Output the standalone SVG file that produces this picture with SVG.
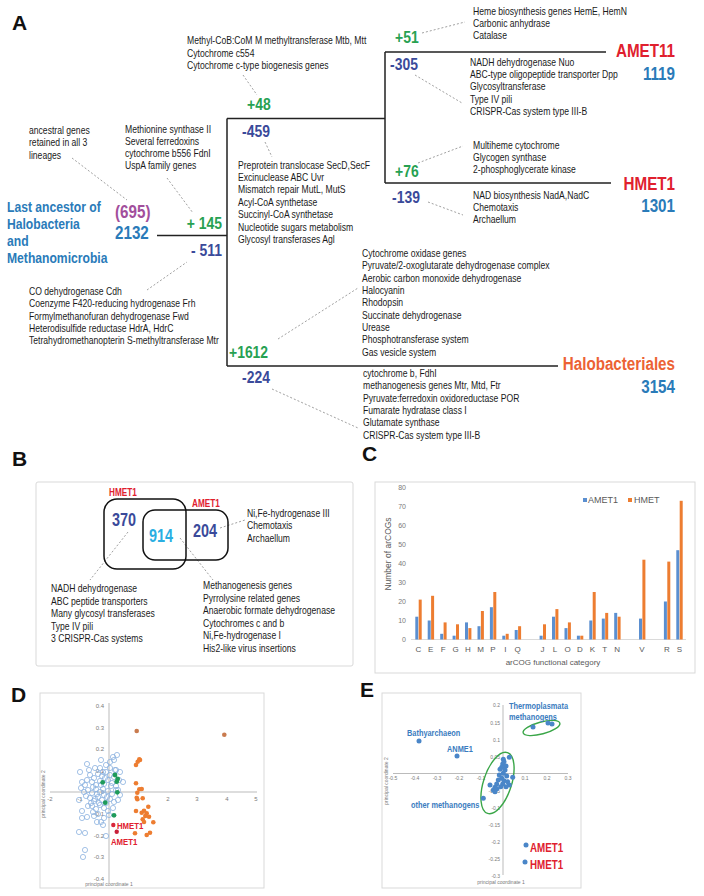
<svg xmlns="http://www.w3.org/2000/svg" width="704" height="896" viewBox="0 0 704 896">
<style>
text{font-family:"Liberation Sans",Arial,sans-serif}
.g text,text.g{font-size:10.5px;fill:#1a1a1a}
.grn{fill:#27a152;font-size:17px;font-weight:bold}
.nav{fill:#3a4a9a;font-size:17px;font-weight:bold}
.blu{fill:#2a7bb9;font-weight:bold}
.red{fill:#e0202e;font-weight:bold}
.lb{fill:#3a7cc0;font-weight:bold;font-size:9px}
.panel{font-size:21px;font-weight:bold;fill:#111}
.tree{stroke:#222;stroke-width:1.5;fill:none}
.dash{stroke:#888;stroke-width:0.8;stroke-dasharray:2,2;fill:none}
.box{fill:none;stroke:#d9d9d9;stroke-width:1}
.ax{fill:#7a7a7a}
.oc{fill:none;stroke:#8db3e0;stroke-width:0.8}
.ob{fill:#ed7d31}
.gp{fill:#1f9b5a}
.ep{fill:#4a86c8}
.ba{fill:#5b8fd0}
.bo{fill:#ed7d31}
</style>

<!-- Panel A -->
<text class="panel" x="12" y="30">A</text>
<g id="connectors">
<path class="tree" d="M157,235.5H227M227,118.5V366M227,118.5H385M385,52V183M385,52H606M385,183H611M227,366H558"/>
<path class="dash" d="M72,158L127,200M167,178L193,213M243,75L257,95M265,142L272,157M422,33L465,22M415,75L462,103M418,163L463,146M428,202L463,215M147,290L187,262M278,339L358,288M272,389L358,428"/>
<path class="dash" d="M128,532L90,580M180,538L213,580M220,528L245,520"/>
</g>

<g id="root">
<g class="blu" font-size="15" transform="translate(7 0) scale(.81 1)">
<text y="212">Last ancestor of</text>
<text y="229">Halobacteria</text>
<text y="246">and</text>
<text y="263">Methanomicrobia</text>
</g>
<text transform="translate(115 218) scale(.8 1)" font-size="19" font-weight="bold" fill="#a24f9c">(695)</text>
<text class="blu" font-size="19" transform="translate(115 239) scale(.8 1)">2132</text>
<g class="g" transform="translate(29 0) scale(.82 1)">
<text y="134">ancestral genes</text>
<text y="146.5">retained in all 3</text>
<text y="159">lineages</text>
</g>
</g>

<g id="branch-root">
<text class="grn" text-anchor="end" transform="translate(222 229) scale(.82 1)">+ 145</text>
<text class="nav" text-anchor="end" transform="translate(222 256) scale(.82 1)">- 511</text>
<g class="g" transform="translate(125 0) scale(.82 1)">
<text y="133.5">Methionine synthase II</text>
<text y="145.5">Several ferredoxins</text>
<text y="157.5">cytochrome b556 FdnI</text>
<text y="169.5">UspA family genes</text>
</g>
<g class="g" transform="translate(29 0) scale(.82 1)">
<text y="295">CO dehydrogenase Cdh</text>
<text y="307.5">Coenzyme F420-reducing hydrogenase Frh</text>
<text y="320">Formylmethanofuran dehydrogenase Fwd</text>
<text y="332">Heterodisulfide reductase HdrA, HdrC</text>
<text y="344.5">Tetrahydromethanopterin S-methyltransferase Mtr</text>
</g>
</g>

<g id="branch-methano">
<g class="g" transform="translate(187 0) scale(.82 1)">
<text y="44.5">Methyl-CoB:CoM M methyltransferase Mtb, Mtt</text>
<text y="56.8">Cytochrome c554</text>
<text y="69">Cytochrome c-type biogenesis genes</text>
</g>
<text class="grn" transform="translate(247 110) scale(.82 1)">+48</text>
<text class="nav" transform="translate(242 137) scale(.82 1)">-459</text>
<g class="g" transform="translate(238 0) scale(.82 1)">
<text y="169">Preprotein translocase SecD,SecF</text>
<text y="181.5">Excinuclease ABC Uvr</text>
<text y="193.5">Mismatch repair MutL, MutS</text>
<text y="206">Acyl-CoA synthetase</text>
<text y="218.5">Succinyl-CoA synthetase</text>
<text y="231">Nucleotide sugars metabolism</text>
<text y="243.5">Glycosyl transferases Agl</text>
</g>
</g>

<g id="amet11">
<text class="grn" transform="translate(395 43) scale(.82 1)">+51</text>
<g class="g" transform="translate(473 0) scale(.82 1)">
<text y="15">Heme biosynthesis genes HemE, HemN</text>
<text y="27">Carbonic anhydrase</text>
<text y="39">Catalase</text>
</g>
<text class="red" font-size="19" text-anchor="end" transform="translate(675 57) scale(.8 1)">AMET11</text>
<text class="blu" font-size="19" text-anchor="end" transform="translate(675 80) scale(.8 1)">1119</text>
<text class="nav" transform="translate(390 70) scale(.82 1)">-305</text>
<g class="g" transform="translate(470 0) scale(.82 1)">
<text y="66">NADH dehydrogenase Nuo</text>
<text y="78">ABC-type oligopeptide transporter Dpp</text>
<text y="90.5">Glycosyltransferase</text>
<text y="103">Type IV pili</text>
<text y="115">CRISPR-Cas system type III-B</text>
</g>
</g>

<g id="hmet1">
<text class="grn" transform="translate(395 177) scale(.82 1)">+76</text>
<g class="g" transform="translate(473 0) scale(.82 1)">
<text y="149">Multiheme cytochrome</text>
<text y="161">Glycogen synthase</text>
<text y="173">2-phosphoglycerate kinase</text>
</g>
<text class="red" font-size="19" text-anchor="end" transform="translate(675 190) scale(.8 1)">HMET1</text>
<text class="blu" font-size="19" text-anchor="end" transform="translate(675 212) scale(.8 1)">1301</text>
<text class="nav" transform="translate(392 203) scale(.82 1)">-139</text>
<g class="g" transform="translate(473 0) scale(.82 1)">
<text y="199">NAD biosynthesis NadA,NadC</text>
<text y="211">Chemotaxis</text>
<text y="223">Archaellum</text>
</g>
</g>

<g id="halobacteriales">
<text class="grn" transform="translate(229 358) scale(.82 1)">+1612</text>
<text class="nav" transform="translate(242 383) scale(.82 1)">-224</text>
<g class="g" transform="translate(362 0) scale(.82 1)">
<text y="257">Cytochrome oxidase genes</text>
<text y="269.5">Pyruvate/2-oxoglutarate dehydrogenase complex</text>
<text y="282">Aerobic carbon monoxide dehydrogenase</text>
<text y="294">Halocyanin</text>
<text y="306.5">Rhodopsin</text>
<text y="319">Succinate dehydrogenase</text>
<text y="331">Urease</text>
<text y="343.5">Phosphotransferase system</text>
<text y="356">Gas vesicle system</text>
</g>
<text text-anchor="end" transform="translate(675 370) scale(.8 1)" font-size="19" font-weight="bold" fill="#ec6234">Halobacteriales</text>
<text class="blu" font-size="19" text-anchor="end" transform="translate(675 393) scale(.8 1)">3154</text>
<g class="g" transform="translate(363 0) scale(.82 1)">
<text y="377">cytochrome b, FdhI</text>
<text y="389.5">methanogenesis genes Mtr, Mtd, Ftr</text>
<text y="402">Pyruvate:ferredoxin oxidoreductase POR</text>
<text y="414">Fumarate hydratase class I</text>
<text y="426.5">Glutamate synthase</text>
<text y="439">CRISPR-Cas system type III-B</text>
</g>
</g>

<!-- Panel B -->
<text class="panel" x="12" y="466">B</text>
<g id="venn">
<rect class="box" x="36" y="482" width="317" height="184" rx="2"/>
<rect x="104" y="499" width="82" height="70" rx="13" fill="none" stroke="#111" stroke-width="1.5"/>
<rect x="143" y="510" width="85" height="50" rx="12" fill="none" stroke="#111" stroke-width="1.5"/>
<text class="red" font-size="10" transform="translate(109 496) scale(.82 1)">HMET1</text>
<text class="red" font-size="10" transform="translate(192 507) scale(.82 1)">AMET1</text>
<text transform="translate(112 526) scale(.8 1)" font-size="18" font-weight="bold" fill="#3a4a9a">370</text>
<text transform="translate(149 542) scale(.8 1)" font-size="18" font-weight="bold" fill="#2aaee2">914</text>
<text transform="translate(193 537) scale(.8 1)" font-size="18" font-weight="bold" fill="#3a4a9a">204</text>
<g class="g" transform="translate(247 0) scale(.82 1)">
<text y="517">Ni,Fe-hydrogenase III</text>
<text y="529.5">Chemotaxis</text>
<text y="542">Archaellum</text>
</g>
<g class="g" transform="translate(51 0) scale(.82 1)">
<text y="592.5">NADH dehydrogenase</text>
<text y="605">ABC peptide transporters</text>
<text y="617.5">Many glycosyl transferases</text>
<text y="630">Type IV pili</text>
<text y="642.5">3 CRISPR-Cas systems</text>
</g>
<g class="g" transform="translate(203 0) scale(.82 1)">
<text y="589">Methanogenesis genes</text>
<text y="601.6">Pyrrolysine related genes</text>
<text y="614.2">Anaerobic formate dehydrogenase</text>
<text y="626.8">Cytochromes c and b</text>
<text y="639.4">Ni,Fe-hydrogenase I</text>
<text y="652">His2-like virus insertions</text>
</g>
</g>

<!-- Panel C -->
<text class="panel" x="362" y="461">C</text>
<g id="barchart">
<rect class="box" x="375" y="482" width="320" height="191"/>
<g class="ax" font-size="7" text-anchor="end">
<text x="406" y="642">0</text><text x="406" y="623">10</text><text x="406" y="604">20</text><text x="406" y="585">30</text><text x="406" y="566">40</text><text x="406" y="547">50</text><text x="406" y="528">60</text><text x="406" y="509">70</text><text x="406" y="490">80</text>
</g>
<line x1="411" y1="639.5" x2="686" y2="639.5" stroke="#d0d0d0" stroke-width="0.8"/>
<text font-size="8.5" fill="#595959" transform="translate(391,554) rotate(-90)" text-anchor="middle">Number of arCOGs</text>
<rect x="583" y="498" width="4" height="4" class="ba"/><text font-size="9" x="588" y="503" fill="#595959">AMET1</text>
<rect x="628" y="498" width="4" height="4" class="bo"/><text font-size="9" x="634" y="503" fill="#595959">HMET</text>
<g>
<rect class="ba" x="415.3" y="616.7" width="3" height="22.8"/><rect class="bo" x="418.7" y="599.6" width="3" height="39.9"/>
<rect class="ba" x="427.7" y="620.5" width="3" height="19"/><rect class="bo" x="431.1" y="595.8" width="3" height="43.7"/>
<rect class="ba" x="440.2" y="633.8" width="3" height="5.7"/><rect class="bo" x="443.6" y="622.4" width="3" height="17.1"/>
<rect class="ba" x="452.6" y="635.7" width="3" height="3.8"/><rect class="bo" x="456" y="624.3" width="3" height="15.2"/>
<rect class="ba" x="465" y="622.4" width="3" height="17.1"/><rect class="bo" x="468.4" y="628.1" width="3" height="11.4"/>
<rect class="ba" x="477.5" y="626.2" width="3" height="13.3"/><rect class="bo" x="480.9" y="611" width="3" height="28.5"/>
<rect class="ba" x="489.9" y="607.2" width="3" height="32.3"/><rect class="bo" x="493.3" y="592" width="3" height="47.5"/>
<rect class="ba" x="502.3" y="635.7" width="3" height="3.8"/><rect class="bo" x="505.7" y="633.8" width="3" height="5.7"/>
<rect class="ba" x="514.7" y="630" width="3" height="9.5"/><rect class="bo" x="518.1" y="626.2" width="3" height="13.3"/>
<rect class="ba" x="539.6" y="635.7" width="3" height="3.8"/><rect class="bo" x="543" y="624.3" width="3" height="15.2"/>
<rect class="ba" x="552" y="616.7" width="3" height="22.8"/><rect class="bo" x="555.4" y="609.1" width="3" height="30.4"/>
<rect class="ba" x="564.5" y="628.1" width="3" height="11.4"/><rect class="bo" x="567.9" y="622.4" width="3" height="17.1"/>
<rect class="ba" x="576.9" y="635.7" width="3" height="3.8"/><rect class="bo" x="580.3" y="635.7" width="3" height="3.8"/>
<rect class="ba" x="589.3" y="620.5" width="3" height="19"/><rect class="bo" x="592.7" y="592" width="3" height="47.5"/>
<rect class="ba" x="601.8" y="618.6" width="3" height="20.9"/><rect class="bo" x="605.2" y="612.9" width="3" height="26.6"/>
<rect class="ba" x="614.2" y="612.9" width="3" height="26.6"/><rect class="bo" x="617.6" y="616.7" width="3" height="22.8"/>
<rect class="ba" x="639" y="618.6" width="3" height="20.9"/><rect class="bo" x="642.4" y="559.7" width="3" height="79.8"/>
<rect class="ba" x="663.9" y="601.5" width="3" height="38"/><rect class="bo" x="667.3" y="561.6" width="3" height="77.9"/>
<rect class="ba" x="676.3" y="550.2" width="3" height="89.3"/><rect class="bo" x="679.7" y="500.8" width="3" height="138.7"/>
</g>
<g font-size="8" text-anchor="middle" fill="#595959">
<text x="418.3" y="652">C</text><text x="430.7" y="652">E</text><text x="443.2" y="652">F</text><text x="455.6" y="652">G</text><text x="468" y="652">H</text><text x="480.5" y="652">M</text><text x="492.9" y="652">P</text><text x="505.3" y="652">I</text><text x="517.7" y="652">Q</text><text x="542.6" y="652">J</text><text x="555" y="652">L</text><text x="567.5" y="652">O</text><text x="579.9" y="652">D</text><text x="592.3" y="652">K</text><text x="604.8" y="652">T</text><text x="617.2" y="652">N</text><text x="642" y="652">V</text><text x="666.9" y="652">R</text><text x="679.3" y="652">S</text>
</g>
<text font-size="8" x="553" y="665" text-anchor="middle" fill="#595959">arCOG functional category</text>
</g>

<!-- Panel D -->
<text class="panel" x="11" y="702">D</text>
<g id="pcoa-d">
<rect class="box" x="40" y="693" width="224" height="195"/>
<line x1="50" y1="792" x2="257" y2="792" stroke="#aaa" stroke-width="0.8"/>
<line x1="109" y1="703" x2="109" y2="883" stroke="#aaa" stroke-width="0.8"/>
<g class="ax" font-size="6" text-anchor="end">
<text x="104" y="708">0.4</text><text x="104" y="729.5">0.3</text><text x="104" y="751">0.2</text><text x="104" y="773">0.1</text><text x="104" y="794">0</text><text x="104" y="816">-0.1</text><text x="104" y="838">-0.2</text><text x="104" y="859">-0.3</text><text x="104" y="881">-0.4</text>
</g>
<g class="ax" font-size="6" text-anchor="middle">
<text x="50" y="801">-2</text><text x="80" y="801">-1</text><text x="138" y="801">1</text><text x="168" y="801">2</text><text x="197" y="801">3</text><text x="227" y="801">4</text><text x="256" y="801">5</text>
</g>
<text class="ax" font-size="5" x="109" y="886" text-anchor="middle">principal coordinate 1</text>
<text class="ax" font-size="5" transform="translate(45,794) rotate(-90)" text-anchor="middle">principal coordinate 2</text>
<g class="oc">
<circle cx="87" cy="764" r="2.6"/><circle cx="80" cy="772" r="2.6"/><circle cx="82" cy="782" r="2.6"/><circle cx="81" cy="788" r="2.6"/><circle cx="79" cy="800" r="2.6"/><circle cx="88" cy="806" r="2.6"/><circle cx="82" cy="811" r="2.6"/><circle cx="82" cy="818" r="2.6"/><circle cx="87" cy="817" r="2.6"/><circle cx="79" cy="832" r="2.6"/><circle cx="85" cy="833" r="2.6"/><circle cx="85" cy="850" r="2.6"/><circle cx="83" cy="857" r="2.6"/><circle cx="103" cy="825" r="2.6"/><circle cx="106" cy="836" r="2.6"/><circle cx="113" cy="757" r="2.6"/><circle cx="117" cy="755" r="2.6"/><circle cx="114" cy="760" r="2.6"/><circle cx="110" cy="768" r="2.6"/><circle cx="116" cy="770" r="2.6"/><circle cx="120" cy="772" r="2.6"/><circle cx="123" cy="782" r="2.6"/><circle cx="118" cy="790" r="2.6"/>
<circle cx="90" cy="775" r="2.6"/><circle cx="94" cy="778" r="2.6"/><circle cx="98" cy="774" r="2.6"/><circle cx="102" cy="776" r="2.6"/><circle cx="106" cy="772" r="2.6"/><circle cx="110" cy="775" r="2.6"/><circle cx="114" cy="777" r="2.6"/><circle cx="92" cy="782" r="2.6"/><circle cx="96" cy="785" r="2.6"/><circle cx="100" cy="781" r="2.6"/><circle cx="104" cy="784" r="2.6"/><circle cx="108" cy="780" r="2.6"/><circle cx="112" cy="783" r="2.6"/><circle cx="116" cy="786" r="2.6"/><circle cx="88" cy="790" r="2.6"/><circle cx="92" cy="793" r="2.6"/><circle cx="96" cy="789" r="2.6"/><circle cx="100" cy="792" r="2.6"/><circle cx="104" cy="795" r="2.6"/><circle cx="108" cy="791" r="2.6"/><circle cx="112" cy="794" r="2.6"/><circle cx="116" cy="790" r="2.6"/><circle cx="90" cy="798" r="2.6"/><circle cx="94" cy="801" r="2.6"/><circle cx="98" cy="797" r="2.6"/><circle cx="102" cy="800" r="2.6"/><circle cx="106" cy="803" r="2.6"/><circle cx="110" cy="799" r="2.6"/><circle cx="114" cy="802" r="2.6"/><circle cx="92" cy="806" r="2.6"/><circle cx="96" cy="809" r="2.6"/><circle cx="100" cy="805" r="2.6"/><circle cx="104" cy="808" r="2.6"/><circle cx="108" cy="811" r="2.6"/><circle cx="98" cy="814" r="2.6"/><circle cx="104" cy="818" r="2.6"/><circle cx="94" cy="816" r="2.6"/><circle cx="86" cy="796" r="2.6"/><circle cx="85" cy="785" r="2.6"/><circle cx="120" cy="795" r="2.6"/><circle cx="119" cy="780" r="2.6"/><circle cx="100" cy="768" r="2.6"/><circle cx="106" cy="765" r="2.6"/><circle cx="95" cy="768" r="2.6"/><circle cx="110" cy="762" r="2.6"/><circle cx="101" cy="760" r="2.6"/><circle cx="89" cy="770" r="2.6"/><circle cx="97" cy="794" r="2.6"/><circle cx="103" cy="789" r="2.6"/><circle cx="93" cy="787" r="2.6"/><circle cx="99" cy="803" r="2.6"/><circle cx="111" cy="786" r="2.6"/><circle cx="107" cy="797" r="2.6"/><circle cx="95" cy="799" r="2.6"/><circle cx="101" cy="785" r="2.6"/><circle cx="105" cy="778" r="2.6"/><circle cx="91" cy="803" r="2.6"/><circle cx="87" cy="780" r="2.6"/><circle cx="84" cy="792" r="2.6"/><circle cx="118" cy="800" r="2.6"/><circle cx="113" cy="808" r="2.6"/><circle cx="109" cy="815" r="2.6"/><circle cx="101" cy="822" r="2.6"/><circle cx="97" cy="822" r="2.6"/><circle cx="93" cy="812" r="2.6"/><circle cx="115" cy="770" r="2.6"/><circle cx="103" cy="772" r="2.6"/>
</g>
<circle cx="136.7" cy="731" r="2.3" fill="#c97b4e"/><circle cx="224.3" cy="734.7" r="2.3" fill="#c97b4e"/>
<g class="ob">
<circle cx="139.3" cy="759.3" r="2.3"/><circle cx="137.7" cy="761.7" r="2.3"/><circle cx="136" cy="765" r="2.3"/><circle cx="140" cy="760" r="2.3"/><circle cx="136" cy="783.3" r="2.3"/><circle cx="139.3" cy="789.3" r="2.3"/><circle cx="141.7" cy="789" r="2.3"/><circle cx="137.3" cy="792.7" r="2.3"/><circle cx="136.7" cy="797.7" r="2.3"/><circle cx="142.7" cy="798.3" r="2.3"/><circle cx="137.3" cy="799.3" r="2.3"/><circle cx="136" cy="811" r="2.3"/><circle cx="141.7" cy="812.7" r="2.3"/><circle cx="144" cy="810.7" r="2.3"/><circle cx="148.3" cy="806.7" r="2.3"/><circle cx="146.7" cy="813.3" r="2.3"/><circle cx="145.3" cy="816" r="2.3"/><circle cx="149" cy="816.7" r="2.3"/><circle cx="142.7" cy="819.3" r="2.3"/><circle cx="144" cy="822" r="2.3"/><circle cx="153.3" cy="822.3" r="2.3"/><circle cx="135" cy="833.3" r="2.3"/><circle cx="146.7" cy="835" r="2.3"/><circle cx="150" cy="832.7" r="2.3"/>
</g>
<g class="gp">
<circle cx="115" cy="775" r="2.4"/><circle cx="102.7" cy="782.3" r="2.4"/><circle cx="117.7" cy="779" r="2.4"/><circle cx="116.7" cy="781.7" r="2.4"/><circle cx="117.3" cy="792.3" r="2.4"/><circle cx="105.3" cy="802.7" r="2.4"/><circle cx="114" cy="815.3" r="2.4"/>
</g>
<circle cx="113.3" cy="825" r="2.2" fill="#d9263a"/><circle cx="116.7" cy="831.7" r="2.2" fill="#c8203a"/>
<text class="red" font-size="9.5" transform="translate(117 828.5) scale(.82 1)">HMET1</text>
<text class="red" font-size="9.5" transform="translate(111 845) scale(.82 1)">AMET1</text>
</g>

<!-- Panel E -->
<text class="panel" x="360" y="697">E</text>
<g id="pcoa-e">
<rect class="box" x="382" y="693" width="199" height="195"/>
<line x1="393" y1="773.5" x2="568" y2="773.5" stroke="#aaa" stroke-width="0.8"/>
<line x1="503" y1="705" x2="503" y2="875" stroke="#aaa" stroke-width="0.8"/>
<g class="ax" font-size="5" text-anchor="end">
<text x="500" y="707">0.2</text><text x="500" y="724.5">0.15</text><text x="500" y="741.5">0.1</text><text x="500" y="758.5">0.05</text><text x="500" y="792.5">-0.05</text><text x="500" y="809.5">-0.1</text><text x="500" y="826.5">-0.15</text><text x="500" y="843.5">-0.2</text><text x="500" y="860.5">-0.25</text><text x="500" y="877.5">-0.3</text>
</g>
<g class="ax" font-size="5" text-anchor="middle">
<text x="393" y="780">-0.5</text><text x="415" y="780">-0.4</text><text x="437" y="780">-0.3</text><text x="459" y="780">-0.2</text><text x="481" y="780">-0.1</text><text x="525" y="780">0.1</text><text x="547" y="780">0.2</text><text x="568" y="780">0.3</text>
</g>
<text class="ax" font-size="5" x="501" y="884" text-anchor="middle">principal coordinate 1</text>
<text class="ax" font-size="5" transform="translate(388,781) rotate(-90)" text-anchor="middle">principal coordinate 2</text>
<ellipse cx="541.5" cy="728" rx="19" ry="6" transform="rotate(-15 541.5 728)" fill="none" stroke="#3aa648" stroke-width="1.4"/>
<ellipse cx="497.5" cy="783" rx="14" ry="32" transform="rotate(18 497.5 783)" fill="none" stroke="#3aa648" stroke-width="1.4"/>
<g class="ep">
<circle cx="419" cy="741" r="2.5"/><circle cx="457" cy="756" r="2.5"/>
<circle cx="533" cy="727" r="2.5"/><circle cx="548" cy="723" r="2.5"/><circle cx="552" cy="724" r="2.5"/>
<circle cx="509.3" cy="757.3" r="2.5"/><circle cx="503.3" cy="759.3" r="2.5"/><circle cx="504" cy="761.7" r="2.5"/><circle cx="502.7" cy="764" r="2.5"/><circle cx="506" cy="766" r="2.5"/><circle cx="501.7" cy="767.3" r="2.5"/><circle cx="505" cy="770" r="2.5"/><circle cx="500" cy="769.3" r="2.5"/><circle cx="503.3" cy="773.3" r="2.5"/><circle cx="506.7" cy="776" r="2.5"/><circle cx="499.3" cy="775" r="2.5"/><circle cx="501.7" cy="778.3" r="2.5"/><circle cx="498.3" cy="780" r="2.5"/><circle cx="504" cy="780.7" r="2.5"/><circle cx="507.7" cy="781.7" r="2.5"/><circle cx="509.3" cy="785" r="2.5"/><circle cx="512.7" cy="777.3" r="2.5"/><circle cx="496.7" cy="784" r="2.5"/><circle cx="495" cy="787.3" r="2.5"/><circle cx="490" cy="785" r="2.5"/><circle cx="493.3" cy="790" r="2.5"/><circle cx="496.7" cy="788.7" r="2.5"/><circle cx="506" cy="786.7" r="2.5"/><circle cx="502.7" cy="784" r="2.5"/><circle cx="483.3" cy="798.3" r="2.5"/><circle cx="495" cy="791.7" r="2.5"/><circle cx="500.7" cy="786.7" r="2.5"/>
<circle cx="526" cy="845" r="2.5"/><circle cx="525" cy="862" r="2.5"/>
</g>
<text class="lb" transform="translate(407 736) scale(.82 1)">Bathyarchaeon</text>
<text class="lb" transform="translate(447 752) scale(.82 1)">ANME1</text>
<text class="lb" transform="translate(509 709) scale(.82 1)">Thermoplasmata</text>
<text class="lb" transform="translate(509 719.5) scale(.82 1)">methanogens</text>
<text class="lb" transform="translate(411 808) scale(.82 1)">other methanogens</text>
<text class="red" font-size="12" transform="translate(530 852) scale(.82 1)">AMET1</text>
<text class="red" font-size="12" transform="translate(530 869) scale(.82 1)">HMET1</text>
</g>
</svg>
